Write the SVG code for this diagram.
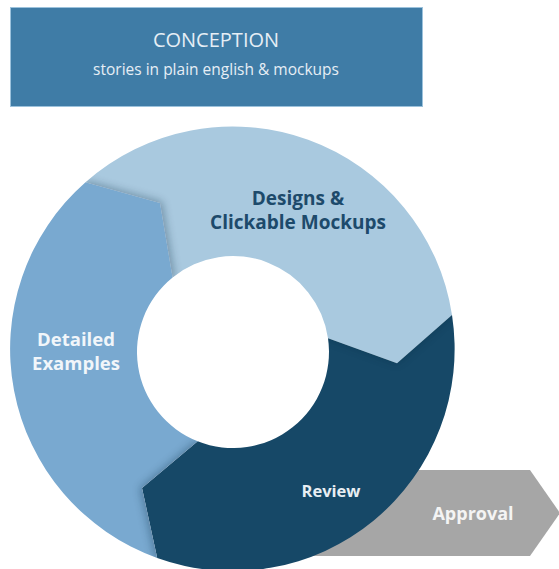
<svg xmlns="http://www.w3.org/2000/svg" width="559" height="569" viewBox="0 0 559 569">
<style>
text{font-family:"Open Sans","Liberation Sans",sans-serif;text-anchor:middle}
.b{font-weight:700}
.seg-light{fill:#a9c9df}
.seg-dark{fill:#164867}
.seg-mid{fill:#79a9d0}
.sh{fill:#0d2a40;opacity:.35}
</style>
<defs>
<filter id="blur" x="-20%" y="-20%" width="140%" height="140%"><feGaussianBlur stdDeviation="4"/></filter>
<clipPath id="cLight"><path d="M85.5,182.2 A222,222 0 0 1 452,315 L397,363.3 L328,338.3 A96,96 0 0 0 172.6,277.4 L160,203 Z"/></clipPath>
<clipPath id="cDark"><path d="M452,315 A222,222 0 0 1 157.2,557.9 L142,488 L197.7,441.3 A96,96 0 0 0 328,338.3 L397,363.3 Z"/></clipPath>
<clipPath id="cMid"><path d="M157.2,557.9 A222,222 0 0 1 85.5,182.2 L160,203 L172.6,277.4 A96,96 0 0 0 197.7,441.3 L142,488 Z"/></clipPath>
</defs>
<g id="approval">
<polygon points="300,470 530,470 560,513 530,556 300,556" fill="#a6a6a6"/>
<text x="473" y="520" class="b" font-size="18" fill="#f4f4f4">Approval</text>
</g>
<g id="conception">
<rect x="10.5" y="7.5" width="412" height="99" fill="#3f7ca6" stroke="#9cc2dc" stroke-width="1"/>
<text x="216" y="47" font-size="20" fill="#e6eef5">CONCEPTION</text>
<text x="216" y="75" font-size="15.5" fill="#e6eef5">stories in plain english &amp; mockups</text>
</g>
<g id="designs">
<path class="seg-light" d="M85.5,182.2 A222,222 0 0 1 452,315 L397,363.3 L328,338.3 A96,96 0 0 0 172.6,277.4 L160,203 Z"/>
</g>
<g id="review">
<path class="seg-dark" d="M452,315 A222,222 0 0 1 157.2,557.9 L142,488 L197.7,441.3 A96,96 0 0 0 328,338.3 L397,363.3 Z"/>
</g>
<g id="detailed">
<path class="seg-mid" d="M157.2,557.9 A222,222 0 0 1 85.5,182.2 L160,203 L172.6,277.4 A96,96 0 0 0 197.7,441.3 L142,488 Z"/>
</g>
<g id="connectors">
<g clip-path="url(#cLight)"><path class="sh" filter="url(#blur)" transform="translate(2,-1)" d="M157.2,557.9 A222,222 0 0 1 85.5,182.2 L160,203 L172.6,277.4 A96,96 0 0 0 197.7,441.3 L142,488 Z"/></g>
<g clip-path="url(#cMid)"><path class="sh" filter="url(#blur)" transform="translate(-2,0)" d="M452,315 A222,222 0 0 1 157.2,557.9 L142,488 L197.7,441.3 A96,96 0 0 0 328,338.3 L397,363.3 Z"/></g>
<g clip-path="url(#cDark)"><path class="sh" filter="url(#blur)" opacity=".15" d="M85.5,182.2 A222,222 0 0 1 452,315 L397,363.3 L328,338.3 A96,96 0 0 0 172.6,277.4 L160,203 Z"/></g>
</g>
<g id="labels">
<text class="b" font-size="19" fill="#1d4a6b"><tspan x="298" y="205">Designs &amp;</tspan><tspan x="298" y="229">Clickable Mockups</tspan></text>
<text class="b" font-size="18.5" fill="#f1f6fa"><tspan x="76" y="346">Detailed</tspan><tspan x="76" y="370">Examples</tspan></text>
<text x="331" y="497" class="b" font-size="16.5" fill="#e8eef3">Review</text>
</g>
</svg>
